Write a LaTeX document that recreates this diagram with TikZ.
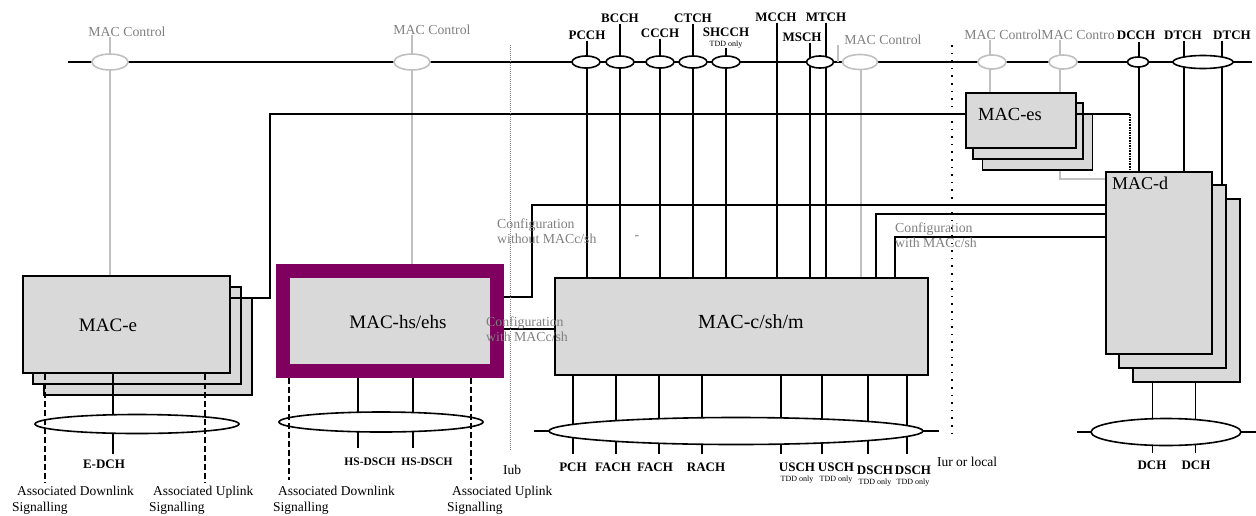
\documentclass[tikz,border=0pt]{standalone}
\usepackage{fontspec}
\setmainfont{Liberation Serif}
\usetikzlibrary{positioning,shapes.geometric}
\definecolor{cardfill}{RGB}{217,217,217}
\definecolor{ctlgray}{RGB}{192,192,192}
\definecolor{ctltxt}{RGB}{128,128,128}
\definecolor{hsframe}{RGB}{128,0,96}

\begin{document}
\begin{tikzpicture}[
  x=1pt, y=-1pt,
  font=\fontsize{13.5}{16}\selectfont,
  card/.style={draw, line width=1.6pt, fill=cardfill, inner sep=0pt},
  boxtext/.style={font=\fontsize{19}{21}\selectfont, inner sep=0pt},
  chan/.style={font=\fontsize{13}{15}\selectfont\bfseries, inner sep=1pt},
  tdd/.style={font=\fontsize{8}{9}\selectfont, inner sep=0pt},
  ctltext/.style={text=ctltxt, font=\fontsize{13.8}{15}\selectfont, inner sep=0pt},
  cfgtext/.style={ctltext, align=left, anchor=west},
  sigtext/.style={align=left, anchor=north west, inner sep=0pt},
  mux/.style={draw, ellipse, line width=1.6pt, fill=white, inner sep=0pt},
  ctlmux/.style={mux, draw=ctlgray},
  wire/.style={line width=1.6pt},
  thinwire/.style={line width=0.8pt},
  ctlwire/.style={line width=1.6pt, draw=ctlgray},
  sig/.style={line width=1.6pt, dash pattern=on 6pt off 3pt},
  iub/.style={line width=1pt, draw=ctltxt, dash pattern=on 1pt off 1pt},
  iur/.style={line width=1.6pt, dash pattern=on 1.6pt off 6pt}
]
\useasboundingbox (0,0) rectangle (1256,515);

\node[card, minimum width=208, minimum height=97] (mace3) at (148,346.5) {};
\node[card, minimum width=208, minimum height=97] (mace2) at (137,335.5) {};
\node[card, minimum width=207, minimum height=97] (mace) at (126.5,324.5) {};
\node[boxtext] (macelbl) at (108,325) {MAC-e};

\node[card, draw=hsframe, line width=14pt, minimum width=214, minimum height=100] (machs) at (390,321) {};
\node[boxtext] (machslbl) at (398,322) {MAC-hs/ehs};

\node[card, minimum width=373, minimum height=97] (macc) at (741.5,326.5) {};
\node[boxtext, font=\fontsize{20}{22}\selectfont] (macclbl) at (751,322) {MAC-c/sh/m};

\node[card, minimum width=110, minimum height=56] (maces3) at (1037.5,142) {};
\node[card, minimum width=110, minimum height=56] (maces2) at (1028,131) {};
\node[card, minimum width=110, minimum height=55] (maces) at (1021,120.5) {};
\node[boxtext, font=\fontsize{18.5}{20}\selectfont] (maceslbl) at (1010,114) {MAC-es};

\node[card, minimum width=107, minimum height=183] (macd3) at (1186.5,290.5) {};
\node[card, minimum width=107, minimum height=183] (macd2) at (1172.5,276.5) {};
\node[card, minimum width=106, minimum height=182] (macd) at (1159,263) {};
\node[boxtext, font=\fontsize{18}{20}\selectfont] (macdlbl) at (1140,183) {MAC-d};

\node[ctltext] (ctla) at (127,32) {MAC Control};
\node[ctltext] (ctlb) at (432,30) {MAC Control};
\node[ctltext] (ctlc) at (883,40) {MAC Control};
\node[ctltext] (ctld) at (1003,35) {MAC Control};
\node[ctltext] (ctle) at (1080,35) {MAC Control};

\node[chan] (pcch) at (587,35) {PCCH};
\node[chan] (bcch) at (620,18) {BCCH};
\node[chan] (ccch) at (660,33) {CCCH};
\node[chan] (ctch) at (693,18) {CTCH};
\node[chan] (shcch) at (726,32) {SHCCH};
\node[tdd, below=3pt of shcch] (shcchtdd) {TDD only};
\node[chan] (mcch) at (776,17) {MCCH};
\node[chan] (msch) at (802,37) {MSCH};
\node[chan] (mtch) at (826,17) {MTCH};
\node[chan, fill=white, inner sep=2pt] (dcch) at (1136,35) {DCCH};
\node[chan] (dtcha) at (1183,35) {DTCH};
\node[chan] (dtchb) at (1232,35) {DTCH};

\coordinate (busw) at (68,62);
\coordinate (buse) at (1252,62);
\draw[wire] (busw) -- (buse);

\draw[ctlwire] (110,0 |- ctla.south) -- (110,0 |- mace.north);
\draw[ctlwire] (412,0 |- ctlb.south) -- (412,0 |- machs.north);
\draw[ctlwire] (838,0 |- ctlc.south) -- (838,62);
\draw[ctlwire] (861,62) -- (861,0 |- macc.north);
\draw[ctlwire] (990,0 |- ctld.south) -- (990,0 |- maces.north);
\draw[ctlwire] (1060,0 |- ctle.south) -- (1060,0 |- maces.north);
\draw[ctlwire] (1060,0 |- maces3.south) -- (1060,179) -- (macd.west |- 0,179);

\draw[wire] (pcch) -- (pcch |- macc.north);
\draw[wire] (bcch) -- (bcch |- macc.north);
\draw[wire] (ccch) -- (ccch |- macc.north);
\draw[wire] (ctch) -- (ctch |- macc.north);
\draw[wire] (shcchtdd) -- (shcchtdd |- macc.north);
\draw[wire] (777,0 |- mcch.south) -- (777,0 |- macc.north);
\draw[wire] (810,0 |- msch.south) -- (810,0 |- macc.north);
\draw[wire] (826,0 |- mtch.south) -- (826,0 |- macc.north);
\draw[wire] (1139,0 |- dcch.south) -- (1139,0 |- macd.north);
\draw[wire] (1184,0 |- dtcha.south) -- (1184,0 |- macd.north);
\draw[wire] (1222,0 |- dtchb.south) -- (1222,0 |- macd2.north);

\draw[wire] (mace.east |- 0,298) -- (270,298) -- (270,114) -- (maces.west |- 0,114);
\draw[wire] (maces.east |- 0,114) -- (1130,114);
\draw[wire, densely dotted] (1130,114) -- (1130,0 |- macd.north);
\draw[wire] (machs.east |- 0,297) -- (532,297) -- (532,205) -- (macd.west |- 0,205);
\draw[wire] (machs.east |- 0,329) -- (macc.west |- 0,329);
\draw[wire] (876,0 |- macc.north) -- (876,214) -- (macd.west |- 0,214);
\draw[wire] (895,0 |- macc.north) -- (895,237) -- (macd.west |- 0,237);

\node[ctlmux, minimum width=36, minimum height=16] (ctlmuxa) at (110,62) {};
\node[ctlmux, minimum width=36, minimum height=16] (ctlmuxb) at (412,62) {};
\node[ctlmux, minimum width=35, minimum height=15] (ctlmuxc) at (860,62) {};
\node[ctlmux, minimum width=28, minimum height=14] (ctlmuxd) at (992,62) {};
\node[ctlmux, minimum width=28, minimum height=14] (ctlmuxe) at (1063,62) {};
\node[mux, minimum width=28, minimum height=12] (pcchmux) at (586,62) {};
\node[mux, minimum width=28, minimum height=12] (bcchmux) at (620,62) {};
\node[mux, minimum width=28, minimum height=12] (ccchmux) at (660,62) {};
\node[mux, minimum width=28, minimum height=12] (ctchmux) at (693,62) {};
\node[mux, minimum width=28, minimum height=12] (shcchmux) at (726,62) {};
\node[mux, minimum width=27, minimum height=12] (mtchmux) at (820,62) {};
\node[mux, minimum width=21, minimum height=10] (dcchmux) at (1138,62) {};
\node[mux, minimum width=60, minimum height=13] (dtchmux) at (1203,62) {};

\node[chan] (edch) at (104,464) {E-DCH};
\draw[wire] (113,0 |- mace.south) -- (113,454);
\node[mux, minimum width=204, minimum height=19] (emux) at (137,424) {};
\draw[sig] (45,0 |- mace.south) -- (45,483);
\draw[sig] (205,0 |- mace.south) -- (205,483);

\node[chan, font=\fontsize{11.5}{14}\selectfont\bfseries] (hsdscha) at (370,462) {HS-DSCH};
\node[chan, font=\fontsize{11.5}{14}\selectfont\bfseries] (hsdschb) at (427,462) {HS-DSCH};
\draw[wire] (358,0 |- machs.south) -- (358,448);
\draw[wire] (413,0 |- machs.south) -- (413,448);
\node[mux, minimum width=204, minimum height=20] (hsmux) at (381,422) {};
\draw[sig] (289,0 |- machs.south) -- (289,480);
\draw[sig] (471,0 |- machs.south) -- (471,480);

\coordinate (cmuxw) at (534,431);
\coordinate (cmuxe) at (939,431);
\draw[wire] (cmuxw) -- (cmuxe);
\draw[wire] (573,0 |- macc.south) -- (573,454);
\draw[wire] (616,0 |- macc.south) -- (616,454);
\draw[wire] (659,0 |- macc.south) -- (659,454);
\draw[wire] (702,0 |- macc.south) -- (702,454);
\draw[wire] (781,0 |- macc.south) -- (781,454);
\draw[wire] (822,0 |- macc.south) -- (822,454);
\draw[wire] (868,0 |- macc.south) -- (868,454);
\draw[wire] (907,0 |- macc.south) -- (907,454);
\node[mux, minimum width=374, minimum height=27] (cmux) at (736,431) {};

\node[chan] (pch) at (573,467) {PCH};
\node[chan] (facha) at (613,467) {FACH};
\node[chan] (fachb) at (655,467) {FACH};
\node[chan] (rach) at (706,467) {RACH};
\node[chan] (uscha) at (797,467) {USCH};
\node[tdd, below=3pt of uscha] (uschatdd) {TDD only};
\node[chan] (uschb) at (836,467) {USCH};
\node[tdd, below=3pt of uschb] (uschbtdd) {TDD only};
\node[chan] (dscha) at (875,470) {DSCH};
\node[tdd, below=3pt of dscha] (dschatdd) {TDD only};
\node[chan] (dschb) at (913,470) {DSCH};
\node[tdd, below=3pt of dschb] (dschbtdd) {TDD only};

\coordinate (dmuxw) at (1077,432);
\coordinate (dmuxe) at (1256,432);
\draw[wire] (dmuxw) -- (dmuxe);
\draw[thinwire] (1152,0 |- macd3.south) -- (1152,453);
\draw[thinwire] (1195,0 |- macd3.south) -- (1195,453);
\node[mux, minimum width=150, minimum height=27] (dmux) at (1166,432) {};
\node[chan] (dcha) at (1152,465) {DCH};
\node[chan] (dchb) at (1196,465) {DCH};

\draw[iub] (510,45) -- (510,450);
\draw[iur] (952,45) -- (952,438);
\node (iub) at (512,470) {Iub};
\node (iur) at (967,462) {Iur or local};

\node[cfgtext] (cfga) at (497,231) {Configuration\\without MACc/sh};
\node[cfgtext] (cfgb) at (895,235) {Configuration\\with MACc/sh};
\node[cfgtext] (cfgc) at (486,329) {Configuration\\with MACc/sh};
\node[ctltext] (dashmark) at (637,238) {-};

\node[sigtext] (dla) at (12,486) {\hspace*{5pt}Associated Downlink\\Signalling};
\node[sigtext] (ula) at (149,486) {\hspace*{4pt}Associated Uplink\\Signalling};
\node[sigtext] (dlb) at (273,486) {\hspace*{5pt}Associated Downlink\\Signalling};
\node[sigtext] (ulb) at (447,486) {\hspace*{5pt}Associated Uplink\\Signalling};

\end{tikzpicture}
\end{document}
